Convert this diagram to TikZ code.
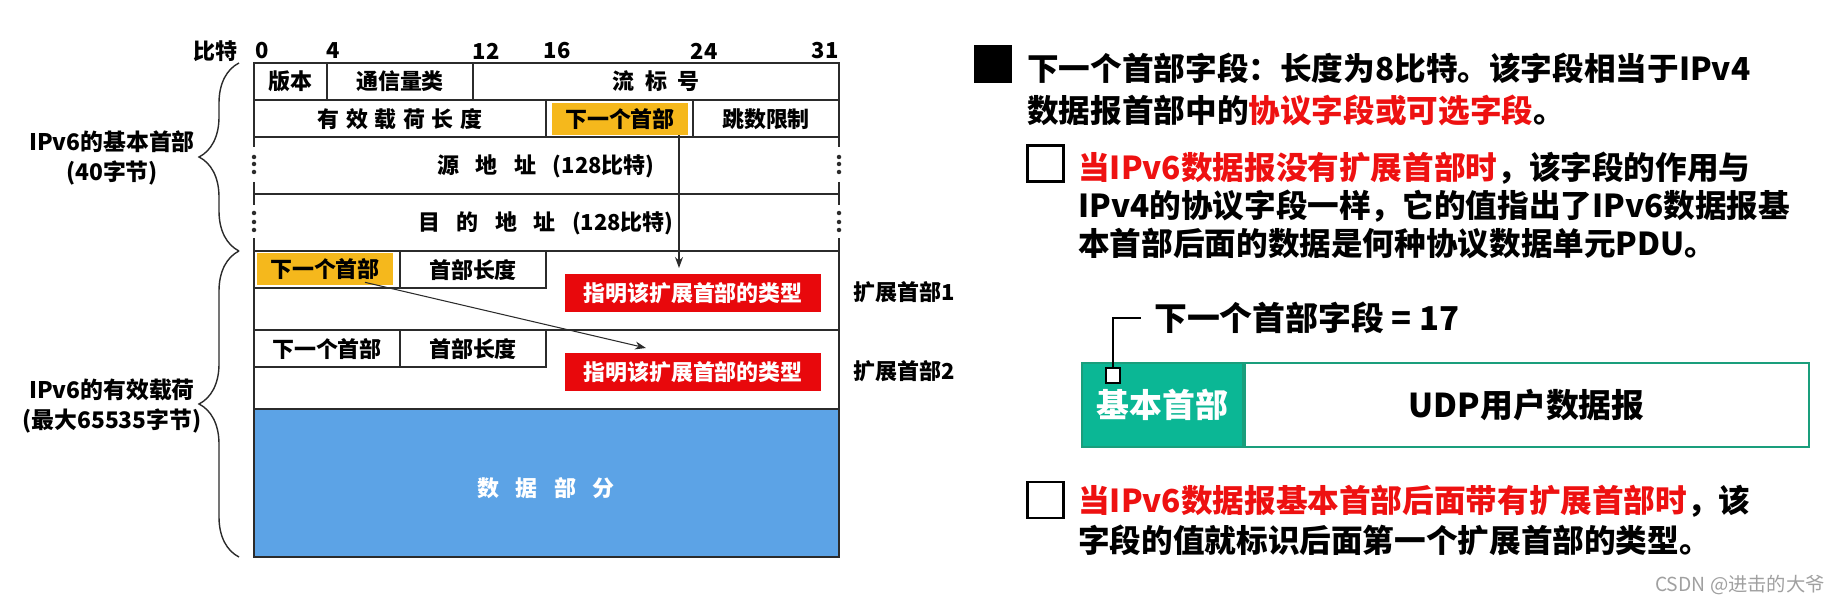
\documentclass[tikz,border=0pt]{standalone}
\usepackage{fontspec}
\setmainfont{Noto Sans CJK SC}
\usepackage{xcolor}
\usetikzlibrary{arrows.meta,positioning,calc,decorations.pathreplacing}
\definecolor{rule}{HTML}{2B2B2B}
\definecolor{hiyel}{HTML}{F5B81C}
\definecolor{hired}{HTML}{E8080C}
\definecolor{txred}{HTML}{EE1111}
\definecolor{payblue}{HTML}{5CA3E6}
\definecolor{hdrgreen}{HTML}{0BB795}
\definecolor{hdrline}{HTML}{1A9E7C}
\definecolor{wmgray}{HTML}{A0A0A0}
\newcommand\tabfont{\bfseries\fontsize{12.5}{15}\selectfont}
\newcommand\bigfont{\bfseries\fontsize{18.7}{23.8}\selectfont}
\newcommand\wgap{\hspace{0.75em}}
\tikzset{
  tline/.style={draw=rule, line width=0.9pt},
  cell/.style={inner sep=0pt, font=\tabfont},
  hlbox/.style={cell, fill=hiyel, minimum width=2.72cm, minimum height=0.64cm},
  typebox/.style={cell, fill=hired, text=white, minimum width=5.12cm, minimum height=0.76cm},
  arrow/.style={-{Stealth[length=2.2mm,width=1.6mm]}, line width=0.6pt, draw=rule},
  curly/.style={decorate, decoration={brace, amplitude=0.8cm}, line width=0.8pt, draw=rule},
  sidelbl/.style={align=center, inner sep=0pt, font=\bfseries\fontsize{13}{17}\selectfont},
  para/.style={anchor=north west, align=left, inner sep=0pt},
  fullsq/.style={fill=black, minimum size=0.76cm, inner sep=0pt},
  opensq/.style={draw=black, line width=1.2pt, fill=white, minimum size=0.72cm, inner sep=0pt},
  hdrbox/.style={fill=hdrgreen, draw=hdrline, line width=1pt, text=white, font=\bigfont,
                 minimum width=3.22cm, minimum height=1.68cm, inner sep=0pt},
  udpbox/.style={fill=white, draw=hdrline, line width=1pt, font=\bigfont,
                 minimum width=11.28cm, minimum height=1.68cm, inner sep=0pt}
}
\begin{document}
\begin{tikzpicture}[x=0.02cm,y=-0.02cm,font=\bfseries]
\useasboundingbox (0,0) rectangle (1833,604);
% bit ruler
\node[cell] (bits) at (215,51) {比特};
\foreach \b/\x in {0/262,4/333,12/486,16/557,24/704,31/825}
  \node[cell] (bit\b) at (\x,51) {\b};

% fixed part of the base header
\draw[tline] (254,63) rectangle (839,137);
\draw[tline] (254,100) -- (839,100);
\draw[tline] (327,63) -- (327,100) (473,63) -- (473,100);
\draw[tline] (546,100) -- (546,137) (693,100) -- (693,137);
\node[cell] (ver) at (290,81) {版本};
\node[cell] (tclass) at (400,81) {通信量类};
\node[cell] (flow) at (656,81) {流\hspace{0.5em}标\hspace{0.5em}号};
\node[cell] (paylen) at (400,119) {有\hspace{0.3em}效\hspace{0.3em}载\hspace{0.3em}荷\hspace{0.3em}长\hspace{0.3em}度};
\node[hlbox] (nhbase) at (620,119) {下一个首部};
\node[cell] (hops) at (766,119) {跳数限制};

% addresses
\draw[tline] (254,194) -- (839,194) (254,251) -- (839,251);
\foreach \x in {254,839} {
  \draw[tline] (\x,137) -- (\x,147) (\x,182) -- (\x,205) (\x,238) -- (\x,251);
  \foreach \y in {157,164,172,213,222,230}
    \fill[rule] (\x,\y) circle[radius=0.045cm];
}
\node[cell] (src) at (546,166) {源\wgap 地\wgap 址\wgap (128比特)};
\node[cell] (dst) at (546,223) {目\wgap 的\wgap 地\wgap 址\wgap (128比特)};

% extension headers
\draw[tline] (254,251) rectangle (839,409);
\draw[tline] (254,330) -- (839,330);
\draw[tline] (254,288) -- (546,288) -- (546,251) (400,251) -- (400,288);
\draw[tline] (254,367) -- (546,367) -- (546,330) (400,330) -- (400,367);
\node[hlbox] (nhext1) at (325,269) {下一个首部};
\node[cell] (hlen1) at (473,270) {首部长度};
\node[typebox] (type1) at (693,293) {指明该扩展首部的类型};
\node[cell, anchor=west] (ext1) at (853,292) {扩展首部1};
\node[cell] (nhext2) at (327,349) {下一个首部};
\node[cell] (hlen2) at (473,349) {首部长度};
\node[typebox] (type2) at (693,372) {指明该扩展首部的类型};
\node[cell, anchor=west] (ext2) at (853,371) {扩展首部2};

% payload data
\draw[draw=rule, fill=payblue, line width=1.4pt] (254,409) rectangle (839,557);
\node[cell, text=white] (data) at (546,488) {数\wgap 据\wgap 部\wgap 分};

\coordinate (tip1) at (679,268);
\coordinate (tip2) at (646,348);
\draw[arrow] (nhbase.south -| tip1) -- (tip1);
\draw[arrow] ([shift={(40,-3)}]nhext1.south) -- (tip2);

% braces
\draw[curly] (239,251) -- (239,63);
\draw[curly] (239,557) -- (239,251);
\node[sidelbl] (lblbase) at (112,158) {IPv6的基本首部\\(40字节)};
\node[sidelbl] (lblpay) at (112,406) {IPv6的有效载荷\\(最大65535字节)};

% right-hand notes
\node[fullsq] (dot1) at (993,64) {};
\node[para, font=\bfseries\fontsize{18}{23.8}\selectfont] (note1) at (1027,53)
  {下一个首部字段：长度为8比特。该字段相当于IPv4\\
   数据报首部中的\textcolor{txred}{协议字段或可选字段}。};
\node[opensq] (dot2) at (1045.5,163.5) {};
\node[para, font=\bfseries\fontsize{18}{21.5}\selectfont] (note2) at (1078,152)
  {\textcolor{txred}{当IPv6数据报没有扩展首部时}，该字段的作用与\\
   IPv4的协议字段一样，它的值指出了IPv6数据报基\\
   本首部后面的数据是何种协议数据单元PDU。};

\node[anchor=west, font=\bigfont] (fieldlbl) at (1148,318) {下一个首部字段 = 17};
\node[hdrbox] (basehdr) at (1162.5,405) {基本首部};
\node[udpbox, right=0pt of basehdr] (udp) {UDP用户数据报};
\node[draw=black, fill=white, line width=0.9pt, minimum width=0.28cm,
      minimum height=0.3cm, inner sep=0pt] (mark) at (1113,375.5) {};
\draw[line width=0.9pt] (mark.north) |- ([xshift=-0.15cm]fieldlbl.west);

\node[opensq] (dot3) at (1045.5,500) {};
\node[para, font=\bfseries\fontsize{18}{22.7}\selectfont] (note3) at (1078,485)
  {\textcolor{txred}{当IPv6数据报基本首部后面带有扩展首部时}，该\\
   字段的值就标识后面第一个扩展首部的类型。};

\node[text=wmgray, font=\mdseries\fontsize{11}{13}\selectfont] (wm) at (1740,585) {CSDN @进击的大爷};
\end{tikzpicture}
\end{document}
